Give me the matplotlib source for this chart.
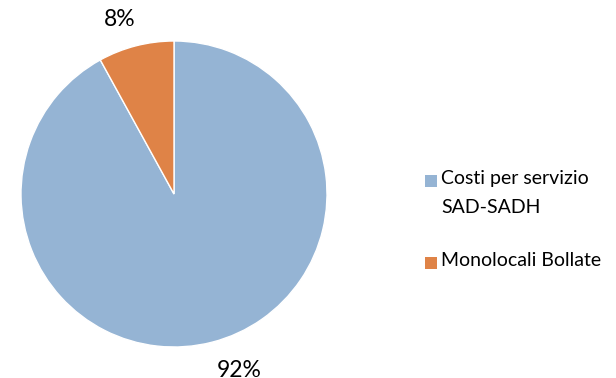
import matplotlib
matplotlib.use("Agg")
import matplotlib.pyplot as plt
from matplotlib.patches import Rectangle
import numpy as np

labels = ["Costi per servizio\nSAD-SADH", "Monolocali Bollate"]
values = [92, 8]
colors = ["#95B4D4", "#DF8347"]

plt.rcParams['font.family'] = ['Lato', 'DejaVu Sans']

W, H = 616, 378
fig = plt.figure(figsize=(W / 100, H / 100), dpi=100)
# pie centre ~ (174, 194) px, radius ~153 px
ax = fig.add_axes([(174 - 153) / W, (H - 194 - 153) / H, 306 / W, 306 / H])
wedges, texts = ax.pie(values, colors=colors, startangle=90, counterclock=False,
                       wedgeprops=dict(edgecolor="white", linewidth=1))
ax.set_xlim(-1, 1)
ax.set_ylim(-1, 1)
ax.set_aspect("equal")
ax.axis("off")

# percentage labels outside the pie (Excel-style nudges)
nudge = [(20, 0), (-9, -2)]
total = sum(values)
ang = 90.0
for v, (dx, dy) in zip(values, nudge):
    mid = ang - 360 * v / total / 2
    ang -= 360 * v / total
    r = 1.19
    x = r * np.cos(np.radians(mid))
    y = r * np.sin(np.radians(mid))
    ax.annotate(f"{round(100 * v / total)}%", (x, y), xytext=(dx * 0.72, dy * 0.72),
                textcoords="offset points", ha="center", va="center",
                fontsize=16.5, color="#000000", annotation_clip=False)

# legend drawn by hand so the marker sits on the first text line
legend_y = [181, 263]
for lab, c, yc in zip(labels, colors, legend_y):
    fig.patches.append(Rectangle((425 / W, 1 - (yc + 6) / H), 12 / W, 12 / H,
                                 transform=fig.transFigure, facecolor=c, edgecolor="none"))
    fig.text(441 / W, 1 - (yc - 11) / H, lab, ha="left", va="top",
             fontsize=14, linespacing=1.85, color="#000000")

fig.savefig("out.png", dpi=100)
